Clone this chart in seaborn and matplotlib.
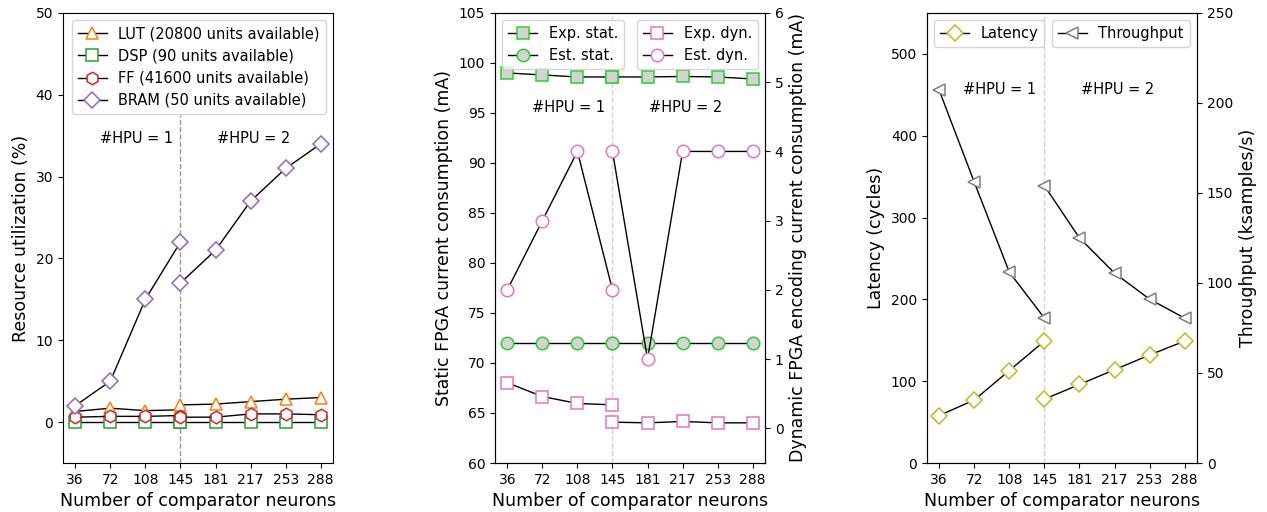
import numpy as np
import pandas as pd
import matplotlib
matplotlib.use("Agg")
import matplotlib.pyplot as plt
import seaborn as sns

# x axis: number of comparator neurons (index 3 = 145 is shared by both HPU configs)
neurons = [36, 72, 108, 145, 181, 217, 253, 288]
idx_hpu1 = [0, 1, 2, 3]
idx_hpu2 = [3, 4, 5, 6, 7]

# ------------------ Resource utilization (%) ------------------
lut_1 = [1.3, 1.7, 1.4, 1.5]
lut_2 = [2.1, 2.2, 2.5, 2.8, 3.0]
dsp_1 = [0, 0, 0, 0]
dsp_2 = [0, 0, 0, 0, 0]
ff_1 = [0.6, 0.7, 0.7, 0.8]
ff_2 = [0.6, 0.6, 1.0, 1.0, 0.9]
bram_1 = [2, 5, 15, 22]
bram_2 = [17, 21, 27, 31, 34]

# ------------------ Current consumption (mA) ------------------
exp_stat_1 = [99.0, 98.8, 98.6, 98.6]
exp_stat_2 = [98.6, 98.6, 98.65, 98.6, 98.4]
est_stat_1 = [72, 72, 72, 72]
est_stat_2 = [72, 72, 72, 72, 72]
exp_dyn_1 = [0.66, 0.46, 0.36, 0.34]
exp_dyn_2 = [0.09, 0.08, 0.1, 0.08, 0.08]
est_dyn_1 = [2, 3, 4, 2]
est_dyn_2 = [4, 1, 4, 4, 4]

# ------------------ Latency / throughput ------------------
latency_1 = [58, 77, 113, 149]
latency_2 = [78, 96, 114, 132, 149]
throughput_1 = [207, 156, 106, 80.5]
throughput_2 = [154, 125, 105.5, 91, 80.5]

TICK_FS = 10
LABEL_FS = 12.5
TEXT_FS = 10.5

plt.rcParams['font.family'] = ['DejaVu Sans']
plt.rcParams['xtick.labelsize'] = TICK_FS
plt.rcParams['ytick.labelsize'] = TICK_FS

fig = plt.figure(figsize=(12.67, 5.12), dpi=100)
ax1 = fig.add_axes([0.0497, 0.0957, 0.2131, 0.879])
ax2 = fig.add_axes([0.3907, 0.0957, 0.2131, 0.879])
ax3 = fig.add_axes([0.7316, 0.0957, 0.2131, 0.879])


def draw(ax, v1, v2, marker, edge, face='white', label=None, ms=9):
    for i, (idx, vals) in enumerate([(idx_hpu1, v1), (idx_hpu2, v2)]):
        sns.lineplot(x=idx, y=vals, ax=ax, color='black', lw=1,
                     marker=marker, markersize=ms, markerfacecolor=face,
                     markeredgecolor=edge, markeredgewidth=1.1,
                     label=label if i == 0 else None, legend=False)


def xaxis(ax):
    ax.set_xticks(range(len(neurons)))
    ax.set_xticklabels(neurons)
    ax.set_xlabel('Number of comparator neurons', fontsize=LABEL_FS)


# panel 1
ax1.vlines(3, -5, 37.5, color='gray', ls='--', lw=1, alpha=0.8)
draw(ax1, lut_1, lut_2, '^', 'tab:orange', label='LUT (20800 units available)')
draw(ax1, dsp_1, dsp_2, 's', 'tab:green', label='DSP (90 units available)')
draw(ax1, ff_1, ff_2, 'h', 'tab:red', label='FF (41600 units available)')
draw(ax1, bram_1, bram_2, 'D', 'tab:purple', label='BRAM (50 units available)', ms=8)
ax1.set_ylim(-5, 50)
ax1.set_ylabel('Resource utilization (%)', fontsize=LABEL_FS)
xaxis(ax1)
ax1.text(1.75, 34.7, '#HPU = 1', ha='center', va='center', fontsize=TEXT_FS)
ax1.text(5.1, 34.7, '#HPU = 2', ha='center', va='center', fontsize=TEXT_FS)
ax1.legend(loc='upper right', fontsize=TEXT_FS)

# panel 2
ax2b = ax2.twinx()
ax2.axvline(3, color='lightgray', ls='--', lw=1)
draw(ax2, exp_stat_1, exp_stat_2, 's', 'limegreen', face='lightgray', label='Exp. stat.')
draw(ax2, est_stat_1, est_stat_2, 'o', 'limegreen', face='lightgray', label='Est. stat.')
draw(ax2b, exp_dyn_1, exp_dyn_2, 's', 'tab:pink', label='Exp. dyn.')
draw(ax2b, est_dyn_1, est_dyn_2, 'o', 'tab:pink', label='Est. dyn.')
ax2.set_ylim(60, 105)
ax2b.set_ylim(-0.5, 6)
ax2b.set_yticks(range(0, 7))
ax2.set_ylabel('Static FPGA current consumption (mA)', fontsize=LABEL_FS)
ax2b.set_ylabel('Dynamic FPGA encoding current consumption (mA)', fontsize=LABEL_FS)
xaxis(ax2)
ax2.text(1.74, 95.5, '#HPU = 1', ha='center', va='center', fontsize=TEXT_FS)
ax2.text(5.1, 95.5, '#HPU = 2', ha='center', va='center', fontsize=TEXT_FS)
ax2.legend(loc='upper left', fontsize=TEXT_FS)
ax2b.legend(loc='upper right', fontsize=TEXT_FS)

# panel 3
ax3b = ax3.twinx()
ax3.axvline(3, color='lightgray', ls='--', lw=1)
draw(ax3, latency_1, latency_2, 'D', 'tab:olive', label='Latency', ms=8)
draw(ax3b, throughput_1, throughput_2, '<', 'tab:gray', label='Throughput')
ax3.set_ylim(0, 550)
ax3b.set_ylim(0, 250)
ax3.set_yticks(range(0, 501, 100))
ax3b.set_yticks(range(0, 251, 50))
ax3.set_ylabel('Latency (cycles)', fontsize=LABEL_FS)
ax3b.set_ylabel('Throughput (ksamples/s)', fontsize=LABEL_FS)
xaxis(ax3)
ax3.text(1.73, 456, '#HPU = 1', ha='center', va='center', fontsize=TEXT_FS)
ax3.text(5.1, 456, '#HPU = 2', ha='center', va='center', fontsize=TEXT_FS)
ax3.legend(loc='upper left', fontsize=TEXT_FS)
ax3b.legend(loc='upper right', fontsize=TEXT_FS)

fig.savefig('out.png', dpi=100)
